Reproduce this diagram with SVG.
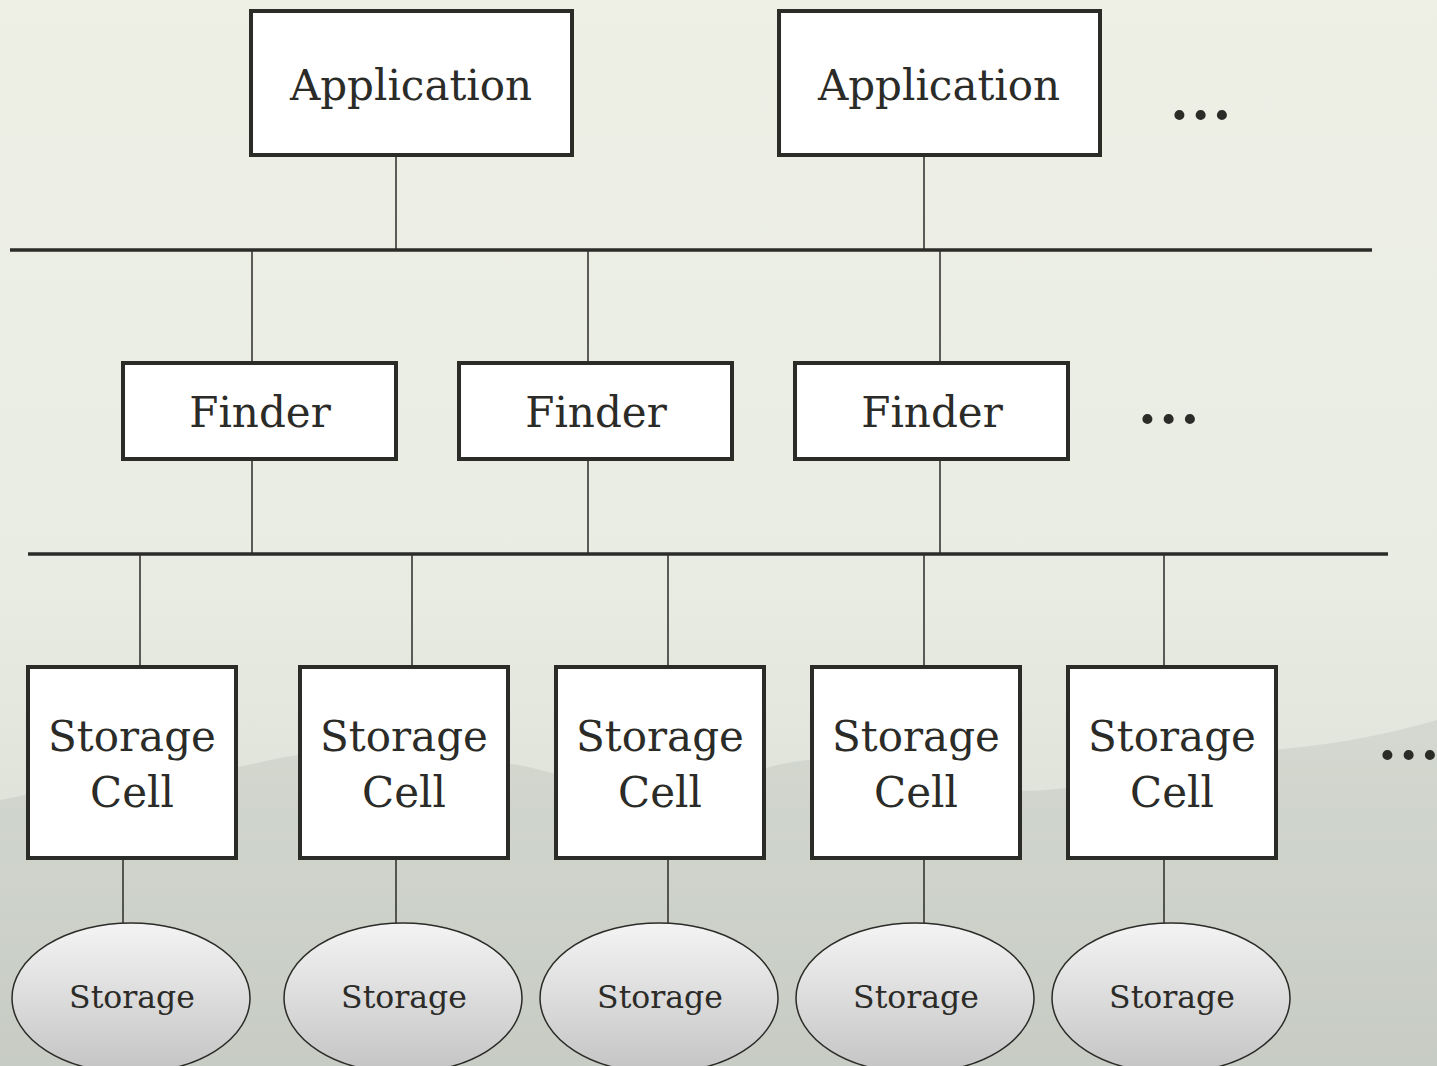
<svg xmlns="http://www.w3.org/2000/svg" width="1437" height="1066" viewBox="0 0 1437 1066">
<defs>
<linearGradient id="bg" x1="0" y1="0" x2="0" y2="1">
<stop offset="0" stop-color="#eef0e6"/>
<stop offset="0.55" stop-color="#e9ece2"/>
<stop offset="0.75" stop-color="#dfe3da"/>
<stop offset="1" stop-color="#d0d4cc"/>
</linearGradient>
<linearGradient id="ell" x1="0" y1="0" x2="0" y2="1">
<stop offset="0" stop-color="#f4f4f4"/>
<stop offset="1" stop-color="#c4c4c4"/>
</linearGradient>
<style>
.box{fill:#ffffff;stroke:#2b2b28;stroke-width:4}
.ell{fill:url(#ell);stroke:#2b2b28;stroke-width:1.5}
.ln{stroke:#2b2b28;stroke-width:1.5;fill:none}
.bus{stroke:#2b2b28;stroke-width:3.5;fill:none}
.t{font-family:"DejaVu Serif","Liberation Serif",serif;fill:#2b2b28;text-anchor:middle}
.big{font-size:42px}
.sm{font-size:31.5px}
.dots{font-family:"DejaVu Serif",serif;font-weight:bold;font-size:54px;fill:#2b2b28;letter-spacing:2.5px}
</style>
</defs>
<rect x="0" y="0" width="1437" height="1066" fill="url(#bg)"/>
<g id="background-hills" fill="#b9beb6" opacity="0.35">
<path d="M0 800 C60 790 120 760 180 770 C240 780 290 740 350 760 C420 780 470 750 540 770 C620 790 680 800 760 770 C820 750 880 760 940 780 C1020 800 1080 790 1140 770 C1220 745 1300 760 1437 720 L1437 1066 L0 1066 Z"/>
<path d="M0 900 C80 880 150 870 220 890 C300 910 360 870 440 885 C520 900 600 870 680 880 C760 890 840 860 920 880 C1000 900 1080 870 1160 885 C1240 900 1320 870 1437 860 L1437 1066 L0 1066 Z"/>
</g>
<g id="connectors">
<line class="ln" x1="396" y1="156" x2="396" y2="250"/>
<line class="ln" x1="924" y1="156" x2="924" y2="250"/>
<line class="bus" x1="10" y1="250" x2="1372" y2="250"/>
<line class="ln" x1="252" y1="250" x2="252" y2="362"/>
<line class="ln" x1="588" y1="250" x2="588" y2="362"/>
<line class="ln" x1="940" y1="250" x2="940" y2="362"/>
<line class="ln" x1="252" y1="460" x2="252" y2="554"/>
<line class="ln" x1="588" y1="460" x2="588" y2="554"/>
<line class="ln" x1="940" y1="460" x2="940" y2="554"/>
<line class="bus" x1="28" y1="554" x2="1388" y2="554"/>
<line class="ln" x1="140" y1="554" x2="140" y2="666"/>
<line class="ln" x1="412" y1="554" x2="412" y2="666"/>
<line class="ln" x1="668" y1="554" x2="668" y2="666"/>
<line class="ln" x1="924" y1="554" x2="924" y2="666"/>
<line class="ln" x1="1164" y1="554" x2="1164" y2="666"/>
<line class="ln" x1="123" y1="859" x2="123" y2="923"/>
<line class="ln" x1="396" y1="859" x2="396" y2="923"/>
<line class="ln" x1="668" y1="859" x2="668" y2="923"/>
<line class="ln" x1="924" y1="859" x2="924" y2="923"/>
<line class="ln" x1="1164" y1="859" x2="1164" y2="923"/>
</g>
<g id="app1"><rect class="box" x="251" y="11" width="321" height="144"/><text class="t big" x="411" y="100">Application</text></g>
<g id="app2"><rect class="box" x="779" y="11" width="321" height="144"/><text class="t big" x="939" y="100">Application</text></g>
<text class="dots" x="1170" y="119">...</text>
<g id="finder1"><rect class="box" x="123" y="363" width="273" height="96"/><text class="t big" x="260" y="427">Finder</text></g>
<g id="finder2"><rect class="box" x="459" y="363" width="273" height="96"/><text class="t big" x="596" y="427">Finder</text></g>
<g id="finder3"><rect class="box" x="795" y="363" width="273" height="96"/><text class="t big" x="932" y="427">Finder</text></g>
<text class="dots" x="1138" y="423">...</text>
<g id="cell1"><rect class="box" x="28" y="667" width="208" height="191"/><text class="t big" x="132" y="751">Storage</text><text class="t big" x="132" y="807">Cell</text></g>
<g id="cell2"><rect class="box" x="300" y="667" width="208" height="191"/><text class="t big" x="404" y="751">Storage</text><text class="t big" x="404" y="807">Cell</text></g>
<g id="cell3"><rect class="box" x="556" y="667" width="208" height="191"/><text class="t big" x="660" y="751">Storage</text><text class="t big" x="660" y="807">Cell</text></g>
<g id="cell4"><rect class="box" x="812" y="667" width="208" height="191"/><text class="t big" x="916" y="751">Storage</text><text class="t big" x="916" y="807">Cell</text></g>
<g id="cell5"><rect class="box" x="1068" y="667" width="208" height="191"/><text class="t big" x="1172" y="751">Storage</text><text class="t big" x="1172" y="807">Cell</text></g>
<text class="dots" x="1378" y="759">...</text>
<g id="storage1"><ellipse class="ell" cx="131" cy="998" rx="119" ry="75"/><text class="t sm" x="132" y="1008">Storage</text></g>
<g id="storage2"><ellipse class="ell" cx="403" cy="998" rx="119" ry="75"/><text class="t sm" x="404" y="1008">Storage</text></g>
<g id="storage3"><ellipse class="ell" cx="659" cy="998" rx="119" ry="75"/><text class="t sm" x="660" y="1008">Storage</text></g>
<g id="storage4"><ellipse class="ell" cx="915" cy="998" rx="119" ry="75"/><text class="t sm" x="916" y="1008">Storage</text></g>
<g id="storage5"><ellipse class="ell" cx="1171" cy="998" rx="119" ry="75"/><text class="t sm" x="1172" y="1008">Storage</text></g>
</svg>
